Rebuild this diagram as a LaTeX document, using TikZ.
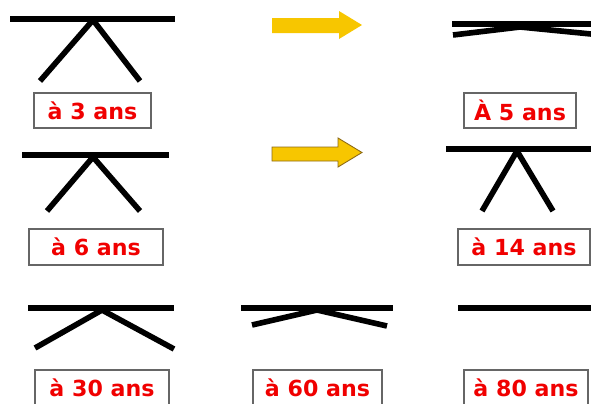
\documentclass[tikz,border=0pt]{standalone}
\usepackage{fontspec}
\newfontfamily\agefont{DejaVu Sans}
\usetikzlibrary{calc,positioning}
\definecolor{ageRed}{RGB}{240,0,0}
\definecolor{arrowGold}{RGB}{247,198,0}
\definecolor{arrowEdge}{RGB}{140,105,20}
\tikzset{
agebox/.style={rectangle,draw=black!60,line width=0.6pt,text=ageRed,
font=\agefont\bfseries\fontsize{12.6}{15}\selectfont,
minimum height=0.7cm,inner sep=0pt},
barre/.style={line width=3.4pt},
jambe/.style={line width=3.2pt},
fleche/.style={fill=arrowGold}
}
\begin{document}
\begin{tikzpicture}[x=0.02cm,y=-0.02cm]
\useasboundingbox (0,0) rectangle (591,403);
% a 3 ans
\coordinate (l3) at (10,19);\coordinate (r3) at (175,19);
\coordinate (a3) at (93,20);
\coordinate (g3) at (40,81);\coordinate (d3) at (140,81);
\draw[barre] (l3)--(r3);
\draw[jambe] (a3)--(g3);
\draw[jambe] (a3)--(d3);
\node[agebox](b3) at (92.5,110.5) [minimum width=2.34cm] {à 3 ans};
% a 5 ans
\coordinate (l5) at (452,24);\coordinate (r5) at (591,24);
\coordinate (a5) at (520,27);
\coordinate (g5) at (453,35);\coordinate (d5) at (591,34);
\draw[barre] (l5)--(r5);
\draw[jambe] (a5)--(g5);
\draw[jambe] (a5)--(d5);
\node[agebox](b5) at (520,110.5) [minimum width=2.24cm] {À 5 ans};
% a 6 ans
\coordinate (l6) at (22,155);\coordinate (r6) at (169,155);
\coordinate (a6) at (93,157);
\coordinate (g6) at (47,211);\coordinate (d6) at (140,211);
\draw[barre] (l6)--(r6);
\draw[jambe] (a6)--(g6);
\draw[jambe] (a6)--(d6);
\node[agebox](b6) at (96,247) [minimum width=2.68cm,minimum height=0.72cm] {à 6 ans};
% a 14 ans
\coordinate (l14) at (446,149);\coordinate (r14) at (591,149);
\coordinate (a14) at (517,151);
\coordinate (g14) at (482,211);\coordinate (d14) at (553,211);
\draw[barre] (l14)--(r14);
\draw[jambe] (a14)--(g14);
\draw[jambe] (a14)--(d14);
\node[agebox](b14) at (524,247) [minimum width=2.64cm,minimum height=0.72cm] {à 14 ans};
% a 30 ans
\coordinate (l30) at (28,308);\coordinate (r30) at (174,308);
\coordinate (a30) at (102,310);
\coordinate (g30) at (35,348);\coordinate (d30) at (174,349);
\draw[barre] (l30)--(r30);
\draw[jambe] (a30)--(g30);
\draw[jambe] (a30)--(d30);
\node[agebox](b30) at (102,388) [minimum width=2.68cm,minimum height=0.72cm] {à 30 ans};
% a 60 ans
\coordinate (l60) at (241,308);\coordinate (r60) at (393,308);
\coordinate (a60) at (317,310);
\coordinate (g60) at (252,325);\coordinate (d60) at (387,326);
\draw[barre] (l60)--(r60);
\draw[jambe] (a60)--(g60);
\draw[jambe] (a60)--(d60);
\node[agebox](b60) at (317.5,388) [minimum width=2.58cm,minimum height=0.72cm] {à 60 ans};
% a 80 ans
\coordinate (l80) at (458,308);\coordinate (r80) at (591,308);
\draw[barre] (l80)--(r80);
\node[agebox](b80) at (526,388) [minimum width=2.48cm,minimum height=0.72cm] {à 80 ans};
% fleches
\fill[fleche] (272,18)--(339,18)--(339,11)--(362,25)--(339,39)--(339,33)--(272,33)--cycle;
\filldraw[fleche,draw=arrowEdge,line width=0.5pt] (272,147)--(338,147)--(338,138)--(362,152.5)--(338,167)--(338,161)--(272,161)--cycle;
\end{tikzpicture}
\end{document}
